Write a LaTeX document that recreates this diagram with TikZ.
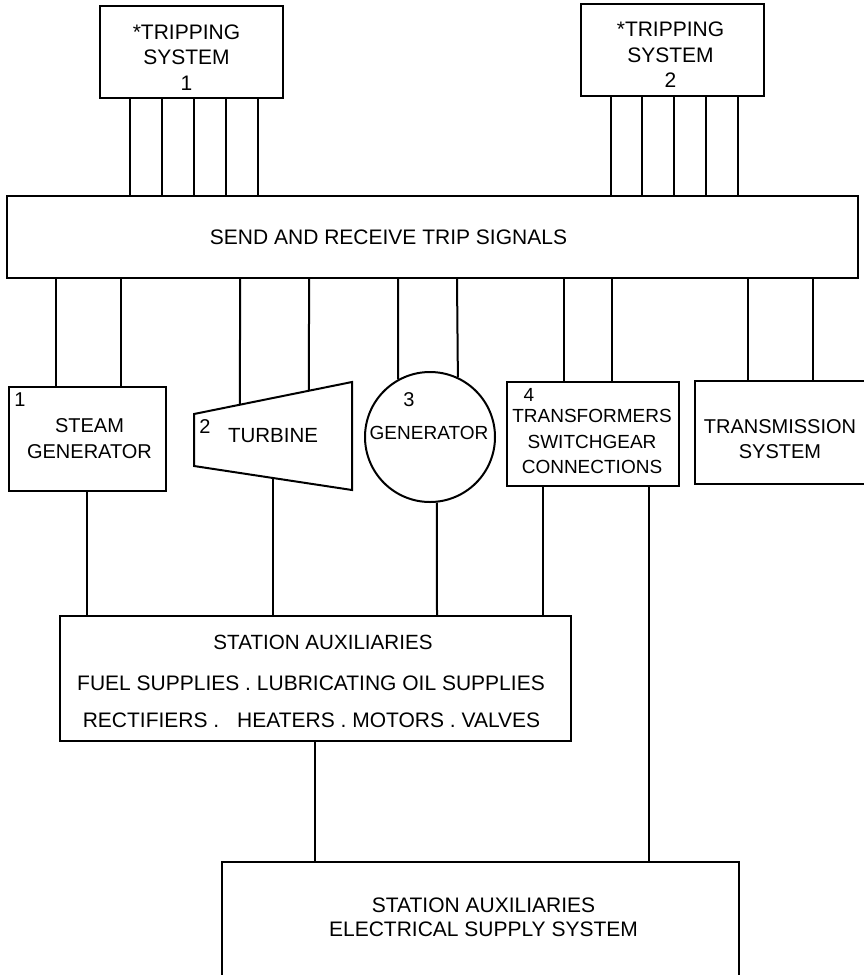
\documentclass[tikz,border=0pt]{standalone}
\usepackage{fontspec}
\setmainfont{Liberation Sans}
\usetikzlibrary{calc}
\newcommand\myfs[2]{\fontsize{#1}{#2}\selectfont}
\begin{document}
\begin{tikzpicture}[x=1pt,y=-1pt,line width=2pt,
  box/.style={draw,rectangle,inner sep=0pt},
  lbl/.style={inner sep=0pt,align=center}]
\useasboundingbox (0,0) rectangle (864,975);
\clip (0,0) rectangle (864,975);
% boxes
\node[box,minimum width=183pt,minimum height=92pt] (ts1) at (191.5,52) {};
\node[box,minimum width=183pt,minimum height=92pt] (ts2) at (672.5,50) {};
\node[box,minimum width=851pt,minimum height=82pt] (sig) at (432.5,237) {};
\node[box,minimum width=157pt,minimum height=104pt] (steam) at (87.5,439) {};
\node[draw,circle,inner sep=0pt,minimum size=130pt] (gen) at (430,437) {};
\node[box,minimum width=172pt,minimum height=104pt] (trans) at (593,434) {};
\node[box,minimum width=230pt,minimum height=103pt] (tms) at (810,432.5) {};
\node[box,minimum width=511pt,minimum height=125pt] (aux) at (315.5,678.5) {};
\node[box,minimum width=517pt,minimum height=228pt] (bot) at (480.5,976) {};
% turbine
\coordinate (tA) at (194,414);
\coordinate (tB) at (352,382);
\coordinate (tC) at (352,490);
\coordinate (tD) at (194,466);
\draw (tA) -- (tB) -- (tC) -- (tD) -- cycle;
% labels
\node[lbl,font=\myfs{21}{25.5}] (ts1t) at (186.5,57.5) {*TRIPPING\\SYSTEM\\1};
\node[lbl,font=\myfs{21}{25.5}] (ts2t) at (670.5,55) {*TRIPPING\\SYSTEM\\2};
\node[lbl,font=\myfs{21}{25}] (sigt) at (388.5,237) {SEND AND RECEIVE TRIP SIGNALS};
\node[lbl,font=\myfs{20}{26}] (steamn) at (20,400) {1};
\node[lbl,font=\myfs{20}{26}] (steamt) at (89.5,439) {STEAM\\GENERATOR};
\node[lbl,font=\myfs{20}{26}] (turn) at (205,427) {2};
\node[lbl,font=\myfs{20.5}{26}] (turt) at (273,436) {TURBINE};
\node[lbl,font=\myfs{20}{26}] (genn) at (409,400) {3};
\node[lbl,font=\myfs{19}{26}] (gent) at (429,433) {GENERATOR};
\node[lbl,font=\myfs{19}{26}] (transn) at (529,395) {4};
\node[lbl,font=\myfs{19}{25.5}] (transt) at (592,441.5) {TRANSFORMERS\\SWITCHGEAR\\CONNECTIONS};
\node[lbl,font=\myfs{20}{25}] (tmst) at (780,439.5) {TRANSMISSION\\SYSTEM};
\node[lbl,font=\myfs{20.6}{25}] (auxt1) at (323,642) {STATION AUXILIARIES};
\node[lbl,font=\myfs{21}{25}] (auxt2) at (311,683) {FUEL SUPPLIES . LUBRICATING OIL SUPPLIES};
\node[lbl,font=\myfs{21}{25}] (auxt3) at (311.5,720) {RECTIFIERS .\hspace{0.85em}HEATERS . MOTORS . VALVES};
\node[lbl,font=\myfs{21}{24}] (bott) at (483.5,917) {STATION AUXILIARIES\\ELECTRICAL SUPPLY SYSTEM};
% connectors
\foreach \x in {130,162,194,226,258} \draw (ts1.south -| \x,0) -- (sig.north -| \x,0);
\foreach \x in {611,642,674,706,738} \draw (ts2.south -| \x,0) -- (sig.north -| \x,0);
\foreach \x in {56,121} \draw (sig.south -| \x,0) -- (steam.north -| \x,0);
\draw (sig.south -| 240,0) -- ($(tA)!0.2911!(tB)$);
\draw (sig.south -| 309,0) -- ($(tA)!0.7278!(tB)$);
\draw (sig.south -| 398,0) -- (gen.119.5);
\draw (sig.south -| 457,0) -- (gen.65.5);
\foreach \x in {564,612} \draw (sig.south -| \x,0) -- (trans.north -| \x,0);
\foreach \x in {748,813} \draw (sig.south -| \x,0) -- (tms.north -| \x,0);
\draw (steam.south -| 87,0) -- (aux.north -| 87,0);
\draw ($(tD)!0.5!(tC)$) -- (aux.north -| 273,0);
\draw (gen.-84.1) -- (aux.north -| 437,0);
\draw (trans.south -| 543,0) -- (aux.north -| 543,0);
\draw (trans.south -| 649,0) -- (bot.north -| 649,0);
\draw (aux.south -| 315,0) -- (bot.north -| 315,0);
\end{tikzpicture}
\end{document}
